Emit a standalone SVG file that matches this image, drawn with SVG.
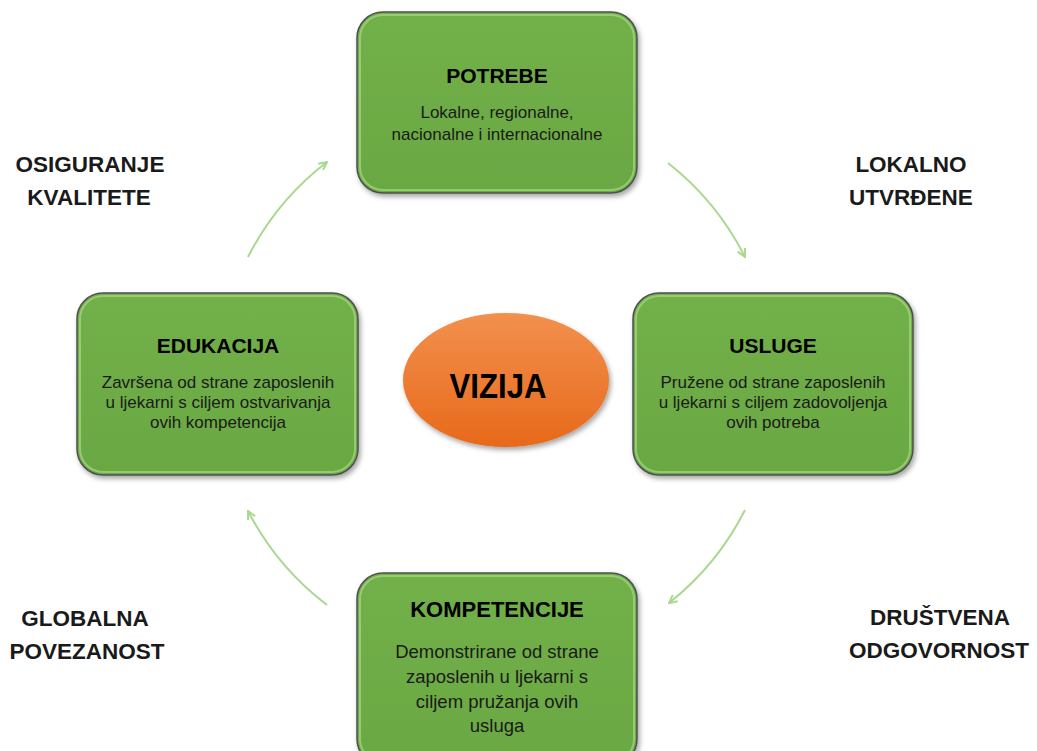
<svg xmlns="http://www.w3.org/2000/svg" width="1037" height="751" viewBox="0 0 1037 751">
<defs>
<style>
.box{fill:url(#gGreen);stroke:#505050;stroke-width:1.5}
.inner{fill:none;stroke:#a6d986;stroke-width:2;opacity:0.7}
.title{font-family:"Liberation Sans",Arial,sans-serif;font-weight:bold;font-size:21px;fill:#000;text-anchor:middle}
.body{font-family:"Liberation Sans",Arial,sans-serif;font-size:17px;fill:#1a1a1a;text-anchor:middle}
.side{font-family:"Liberation Sans",Arial,sans-serif;font-weight:bold;font-size:22.5px;fill:#1a1a1a;text-anchor:middle}
.arc{fill:none;stroke:#a9d890;stroke-width:2;marker-end:url(#arr)}
</style>
<linearGradient id="gGreen" x1="0" y1="0" x2="0" y2="1">
<stop offset="0" stop-color="#72b049"/>
<stop offset="1" stop-color="#6aa843"/>
</linearGradient>
<linearGradient id="gOrange" x1="0" y1="0" x2="0" y2="1">
<stop offset="0" stop-color="#f2904e"/>
<stop offset="1" stop-color="#e8691a"/>
</linearGradient>
<filter id="sh" x="-10%" y="-10%" width="130%" height="130%">
<feDropShadow dx="2" dy="3" stdDeviation="2.5" flood-color="#000" flood-opacity="0.35"/>
</filter>
<marker id="arr" viewBox="0 0 10 10" refX="9" refY="5" markerWidth="10" markerHeight="10" markerUnits="userSpaceOnUse" orient="auto">
<path d="M1,1 L9,5 L1,9" fill="none" stroke="#a9d890" stroke-width="2"/>
</marker>
</defs>
<rect width="1037" height="751" fill="#ffffff"/>
<g id="connectors">
<path class="arc" d="M668,163 A279,279 0 0 1 745,257"/>
<path class="arc" d="M745,510 A279,279 0 0 1 669,603"/>
<path class="arc" d="M327,605 A279,279 0 0 1 248,511"/>
<path class="arc" d="M248,257 A279,279 0 0 1 327,162"/>
</g>
<g id="node-potrebe">
<rect class="box" x="357" y="12" width="280" height="181" rx="26" filter="url(#sh)"/>
<rect class="inner" x="360" y="15" width="274" height="175" rx="23"/>
<text class="title" x="497" y="83">POTREBE</text>
<text class="body" x="497" y="118">Lokalne, regionalne,</text>
<text class="body" x="497" y="140">nacionalne i internacionalne</text>
</g>
<g id="node-edukacija">
<rect class="box" x="77" y="293" width="281" height="182" rx="26" filter="url(#sh)"/>
<rect class="inner" x="80" y="296" width="275" height="176" rx="23"/>
<text class="title" x="218" y="353">EDUKACIJA</text>
<text class="body" x="218" y="388">Završena od strane zaposlenih</text>
<text class="body" x="218" y="408">u ljekarni s ciljem ostvarivanja</text>
<text class="body" x="218" y="428">ovih kompetencija</text>
</g>
<g id="node-usluge">
<rect class="box" x="633" y="293" width="280" height="182" rx="26" filter="url(#sh)"/>
<rect class="inner" x="636" y="296" width="274" height="176" rx="23"/>
<text class="title" x="773" y="353">USLUGE</text>
<text class="body" x="773" y="388">Pružene od strane zaposlenih</text>
<text class="body" x="773" y="408">u ljekarni s ciljem zadovoljenja</text>
<text class="body" x="773" y="428">ovih potreba</text>
</g>
<g id="node-kompetencije">
<rect class="box" x="357" y="573" width="280" height="192" rx="26" filter="url(#sh)"/>
<rect class="inner" x="360" y="576" width="274" height="186" rx="23"/>
<text class="title" x="497" y="617" style="font-size:22px">KOMPETENCIJE</text>
<text class="body" x="497" y="658" style="font-size:18.5px">Demonstrirane od strane</text>
<text class="body" x="497" y="683" style="font-size:18.5px">zaposlenih u ljekarni s</text>
<text class="body" x="497" y="708" style="font-size:18.5px">ciljem pružanja ovih</text>
<text class="body" x="497" y="732" style="font-size:18.5px">usluga</text>
</g>
<g id="node-vizija">
<ellipse cx="506" cy="380" rx="103" ry="67" fill="url(#gOrange)" filter="url(#sh)"/>
<text x="498" y="398" text-anchor="middle" font-family="Liberation Sans, Arial, sans-serif" font-weight="bold" font-size="35" textLength="97" lengthAdjust="spacingAndGlyphs" fill="#000">VIZIJA</text>
</g>
<g id="labels">
<text class="side" x="90" y="172">OSIGURANJE</text>
<text class="side" x="89" y="205">KVALITETE</text>
<text class="side" x="911" y="172">LOKALNO</text>
<text class="side" x="911" y="205">UTVRĐENE</text>
<text class="side" x="85" y="626">GLOBALNA</text>
<text class="side" x="87" y="659">POVEZANOST</text>
<text class="side" x="940" y="625">DRUŠTVENA</text>
<text class="side" x="939" y="658">ODGOVORNOST</text>
</g>
</svg>
